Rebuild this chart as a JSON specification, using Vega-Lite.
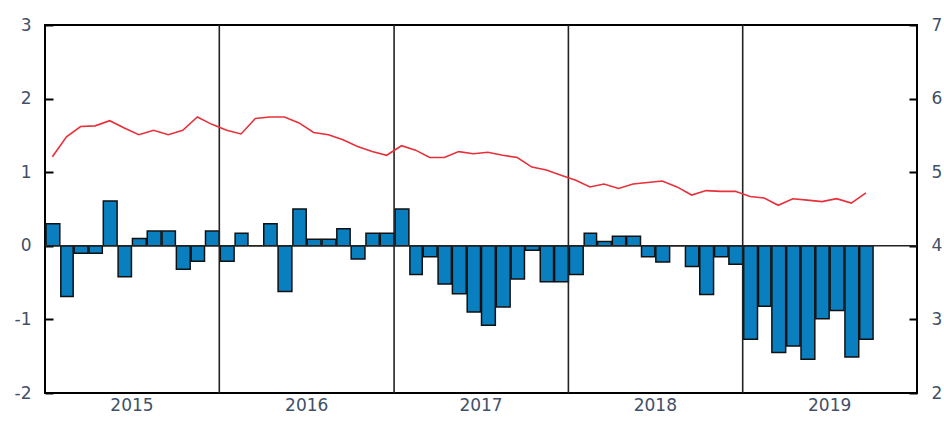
{
  "$schema": "https://vega.github.io/schema/vega-lite/v6.json",
  "width": 872,
  "height": 368,
  "autosize": "none",
  "padding": {"left": 45, "top": 25, "right": 27, "bottom": 28},
  "background": "white",
  "config": {
    "view": {"stroke": "black", "strokeWidth": 2}
  },
  "datasets": {
    "series": [
      {"date": "2015-01-01", "bar": 0.30, "rate": 5.21},
      {"date": "2015-02-01", "bar": -0.69, "rate": 5.48},
      {"date": "2015-03-01", "bar": -0.10, "rate": 5.62},
      {"date": "2015-04-01", "bar": -0.10, "rate": 5.63},
      {"date": "2015-05-01", "bar": 0.61, "rate": 5.70},
      {"date": "2015-06-01", "bar": -0.42, "rate": 5.60},
      {"date": "2015-07-01", "bar": 0.10, "rate": 5.51},
      {"date": "2015-08-01", "bar": 0.20, "rate": 5.57},
      {"date": "2015-09-01", "bar": 0.20, "rate": 5.51},
      {"date": "2015-10-01", "bar": -0.32, "rate": 5.57},
      {"date": "2015-11-01", "bar": -0.21, "rate": 5.75},
      {"date": "2015-12-01", "bar": 0.20, "rate": 5.65},
      {"date": "2016-01-01", "bar": -0.21, "rate": 5.57},
      {"date": "2016-02-01", "bar": 0.17, "rate": 5.52},
      {"date": "2016-03-01", "bar": 0.0, "rate": 5.73},
      {"date": "2016-04-01", "bar": 0.30, "rate": 5.75},
      {"date": "2016-05-01", "bar": -0.62, "rate": 5.75},
      {"date": "2016-06-01", "bar": 0.50, "rate": 5.67},
      {"date": "2016-07-01", "bar": 0.09, "rate": 5.54},
      {"date": "2016-08-01", "bar": 0.09, "rate": 5.51},
      {"date": "2016-09-01", "bar": 0.23, "rate": 5.44},
      {"date": "2016-10-01", "bar": -0.18, "rate": 5.35},
      {"date": "2016-11-01", "bar": 0.17, "rate": 5.28},
      {"date": "2016-12-01", "bar": 0.17, "rate": 5.23},
      {"date": "2017-01-01", "bar": 0.50, "rate": 5.36},
      {"date": "2017-02-01", "bar": -0.39, "rate": 5.30},
      {"date": "2017-03-01", "bar": -0.15, "rate": 5.20},
      {"date": "2017-04-01", "bar": -0.52, "rate": 5.20},
      {"date": "2017-05-01", "bar": -0.65, "rate": 5.28},
      {"date": "2017-06-01", "bar": -0.90, "rate": 5.25},
      {"date": "2017-07-01", "bar": -1.08, "rate": 5.27},
      {"date": "2017-08-01", "bar": -0.83, "rate": 5.23},
      {"date": "2017-09-01", "bar": -0.45, "rate": 5.20},
      {"date": "2017-10-01", "bar": -0.06, "rate": 5.07},
      {"date": "2017-11-01", "bar": -0.49, "rate": 5.03},
      {"date": "2017-12-01", "bar": -0.49, "rate": 4.96},
      {"date": "2018-01-01", "bar": -0.39, "rate": 4.89},
      {"date": "2018-02-01", "bar": 0.17, "rate": 4.80},
      {"date": "2018-03-01", "bar": 0.06, "rate": 4.84},
      {"date": "2018-04-01", "bar": 0.13, "rate": 4.78},
      {"date": "2018-05-01", "bar": 0.13, "rate": 4.84},
      {"date": "2018-06-01", "bar": -0.15, "rate": 4.86},
      {"date": "2018-07-01", "bar": -0.22, "rate": 4.88},
      {"date": "2018-08-01", "bar": 0.0, "rate": 4.80},
      {"date": "2018-09-01", "bar": -0.28, "rate": 4.69},
      {"date": "2018-10-01", "bar": -0.66, "rate": 4.75},
      {"date": "2018-11-01", "bar": -0.15, "rate": 4.74},
      {"date": "2018-12-01", "bar": -0.25, "rate": 4.74},
      {"date": "2019-01-01", "bar": -1.27, "rate": 4.67},
      {"date": "2019-02-01", "bar": -0.82, "rate": 4.65},
      {"date": "2019-03-01", "bar": -1.45, "rate": 4.55},
      {"date": "2019-04-01", "bar": -1.36, "rate": 4.64},
      {"date": "2019-05-01", "bar": -1.54, "rate": 4.62},
      {"date": "2019-06-01", "bar": -0.99, "rate": 4.60},
      {"date": "2019-07-01", "bar": -0.88, "rate": 4.64},
      {"date": "2019-08-01", "bar": -1.51, "rate": 4.58},
      {"date": "2019-09-01", "bar": -1.27, "rate": 4.72}
    ],
    "years": [
      {"start": "2016-01-01"},
      {"start": "2017-01-01"},
      {"start": "2018-01-01"},
      {"start": "2019-01-01"}
    ]
  },
  "layer": [
    {
      "data": {"name": "series"},
      "mark": {"type": "bar", "color": "#0a7fbf", "stroke": "#111", "strokeWidth": 1.5},
      "encoding": {
        "x": {
          "field": "date", "timeUnit": "yearmonth", "type": "temporal",
          "scale": {"domain": [{"year": 2015, "month": 1, "date": 1}, {"year": 2020, "month": 1, "date": 1}]},
          "axis": {"values": [{"year": 2015, "month": 7, "date": 1}, {"year": 2016, "month": 7, "date": 1}, {"year": 2017, "month": 7, "date": 1}, {"year": 2018, "month": 7, "date": 1}, {"year": 2019, "month": 7, "date": 1}], "format": "%Y", "ticks": false, "grid": false, "domain": false, "labelPadding": 4, "labelFont": "DejaVu Sans", "labelFontSize": 17, "labelColor": "#3f5068", "title": null, "labelFlush": false}
        },
        "y": {
          "field": "bar", "type": "quantitative",
          "scale": {"domain": [-2, 3], "nice": false},
          "axis": {"tickCount": 5, "labelExpr": "replace(format(datum.value, 'd'), '\u2212', '-')", "grid": false, "domain": false, "ticks": true, "tickSize": -8, "tickWidth": 2, "tickColor": "black", "labelPadding": 22, "labelFont": "DejaVu Sans", "labelFontSize": 17, "labelColor": "#3f5068", "labelFlush": false, "title": null}
        }
      }
    },
    {
      "data": {"name": "years"},
      "mark": {"type": "rule", "color": "#222", "strokeWidth": 1.6},
      "encoding": {"x": {"field": "start", "type": "temporal"}}
    },
    {
      "data": {"values": [{"z": 0}]},
      "mark": {"type": "rule", "color": "#222", "strokeWidth": 1.4},
      "encoding": {"y": {"field": "z", "type": "quantitative", "scale": {"domain": [-2, 3], "nice": false}, "axis": null}}
    },
    {
      "data": {"name": "series"},
      "mark": {"type": "line", "color": "#e8303a", "strokeWidth": 1.6},
      "encoding": {
        "x": {"field": "date", "timeUnit": "yearmonth", "type": "temporal", "bandPosition": 0.5},
        "y": {
          "field": "rate", "type": "quantitative",
          "scale": {"domain": [2, 7], "nice": false},
          "axis": {"orient": "right", "tickCount": 5, "format": "d", "grid": false, "domain": false, "ticks": true, "tickSize": -8, "tickWidth": 2, "tickColor": "black", "labelPadding": 22, "labelFont": "DejaVu Sans", "labelFontSize": 17, "labelColor": "#3f5068", "labelFlush": false, "title": null}
        }
      }
    }
  ],
  "resolve": {"scale": {"y": "independent"}}
}
